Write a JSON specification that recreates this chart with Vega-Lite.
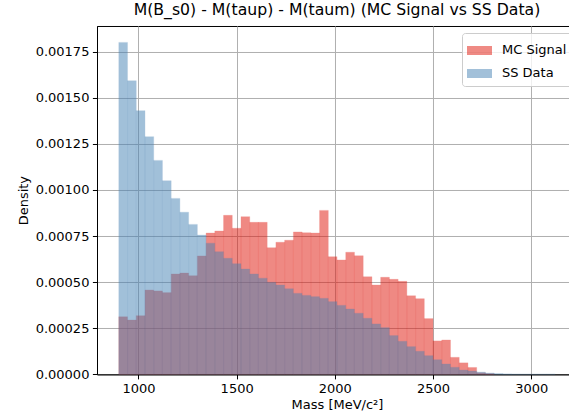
{
  "$schema": "https://vega.github.io/schema/vega-lite/v6.json",
  "autosize": "none",
  "width": 480,
  "height": 348.3,
  "padding": {"left": 97, "top": 26, "right": 0, "bottom": 41},
  "background": "white",
  "config": {
    "font": "DejaVu Sans",
    "view": {"stroke": "black", "strokeWidth": 1},
    "axis": {
      "zindex": 1,
      "domainColor": "black",
      "domainWidth": 1,
      "tickColor": "black",
      "tickWidth": 1,
      "tickSize": 4.6,
      "labelPadding": 3.5,
      "labelFontSize": 13,
      "labelColor": "black",
      "titleFontSize": 13,
      "titleFontWeight": "normal",
      "titleColor": "black",
      "gridColor": "#b0b0b0",
      "gridWidth": 1,
      "gridOpacity": 1
    }
  },
  "title": {
    "text": "M(B_s0) - M(taup) - M(taum) (MC Signal vs SS Data)",
    "fontSize": 15.7,
    "fontWeight": "normal",
    "color": "black",
    "anchor": "middle",
    "offset": 7
  },
  "data": {
    "values": [
      {"series": "MC Signal", "lo": 900, "hi": 944.44, "density": 0.000312},
      {"series": "MC Signal", "lo": 944.44, "hi": 988.89, "density": 0.000294},
      {"series": "MC Signal", "lo": 988.89, "hi": 1033.33, "density": 0.000318},
      {"series": "MC Signal", "lo": 1033.33, "hi": 1077.78, "density": 0.000457},
      {"series": "MC Signal", "lo": 1077.78, "hi": 1122.22, "density": 0.000452},
      {"series": "MC Signal", "lo": 1122.22, "hi": 1166.67, "density": 0.000443},
      {"series": "MC Signal", "lo": 1166.67, "hi": 1211.11, "density": 0.000544},
      {"series": "MC Signal", "lo": 1211.11, "hi": 1255.56, "density": 0.000549},
      {"series": "MC Signal", "lo": 1255.56, "hi": 1300, "density": 0.000535},
      {"series": "MC Signal", "lo": 1300, "hi": 1344.44, "density": 0.000642},
      {"series": "MC Signal", "lo": 1344.44, "hi": 1388.89, "density": 0.000766},
      {"series": "MC Signal", "lo": 1388.89, "hi": 1433.33, "density": 0.000777},
      {"series": "MC Signal", "lo": 1433.33, "hi": 1477.78, "density": 0.000862},
      {"series": "MC Signal", "lo": 1477.78, "hi": 1522.22, "density": 0.000792},
      {"series": "MC Signal", "lo": 1522.22, "hi": 1566.67, "density": 0.000855},
      {"series": "MC Signal", "lo": 1566.67, "hi": 1611.11, "density": 0.000824},
      {"series": "MC Signal", "lo": 1611.11, "hi": 1655.56, "density": 0.000824},
      {"series": "MC Signal", "lo": 1655.56, "hi": 1700, "density": 0.000687},
      {"series": "MC Signal", "lo": 1700, "hi": 1744.44, "density": 0.000716},
      {"series": "MC Signal", "lo": 1744.44, "hi": 1788.89, "density": 0.000727},
      {"series": "MC Signal", "lo": 1788.89, "hi": 1833.33, "density": 0.000772},
      {"series": "MC Signal", "lo": 1833.33, "hi": 1877.78, "density": 0.000768},
      {"series": "MC Signal", "lo": 1877.78, "hi": 1922.22, "density": 0.000766},
      {"series": "MC Signal", "lo": 1922.22, "hi": 1966.67, "density": 0.000889},
      {"series": "MC Signal", "lo": 1966.67, "hi": 2011.11, "density": 0.000638},
      {"series": "MC Signal", "lo": 2011.11, "hi": 2055.56, "density": 0.00062},
      {"series": "MC Signal", "lo": 2055.56, "hi": 2100, "density": 0.000662},
      {"series": "MC Signal", "lo": 2100, "hi": 2144.44, "density": 0.000643},
      {"series": "MC Signal", "lo": 2144.44, "hi": 2188.89, "density": 0.000529},
      {"series": "MC Signal", "lo": 2188.89, "hi": 2233.33, "density": 0.000484},
      {"series": "MC Signal", "lo": 2233.33, "hi": 2277.78, "density": 0.000526},
      {"series": "MC Signal", "lo": 2277.78, "hi": 2322.22, "density": 0.000515},
      {"series": "MC Signal", "lo": 2322.22, "hi": 2366.67, "density": 0.000504},
      {"series": "MC Signal", "lo": 2366.67, "hi": 2411.11, "density": 0.000426},
      {"series": "MC Signal", "lo": 2411.11, "hi": 2455.56, "density": 0.00041},
      {"series": "MC Signal", "lo": 2455.56, "hi": 2500, "density": 0.000302},
      {"series": "MC Signal", "lo": 2500, "hi": 2544.44, "density": 0.000181},
      {"series": "MC Signal", "lo": 2544.44, "hi": 2588.89, "density": 0.000186},
      {"series": "MC Signal", "lo": 2588.89, "hi": 2633.33, "density": 0.000092},
      {"series": "MC Signal", "lo": 2633.33, "hi": 2677.78, "density": 0.000062},
      {"series": "MC Signal", "lo": 2677.78, "hi": 2722.22, "density": 0.000037},
      {"series": "MC Signal", "lo": 2722.22, "hi": 2766.67, "density": 0.000008},
      {"series": "MC Signal", "lo": 2766.67, "hi": 2811.11, "density": 0.000003},
      {"series": "SS Data", "lo": 900, "hi": 944.44, "density": 0.0018},
      {"series": "SS Data", "lo": 944.44, "hi": 988.89, "density": 0.001592},
      {"series": "SS Data", "lo": 988.89, "hi": 1033.33, "density": 0.00143},
      {"series": "SS Data", "lo": 1033.33, "hi": 1077.78, "density": 0.001289},
      {"series": "SS Data", "lo": 1077.78, "hi": 1122.22, "density": 0.00116},
      {"series": "SS Data", "lo": 1122.22, "hi": 1166.67, "density": 0.00105},
      {"series": "SS Data", "lo": 1166.67, "hi": 1211.11, "density": 0.000954},
      {"series": "SS Data", "lo": 1211.11, "hi": 1255.56, "density": 0.000879},
      {"series": "SS Data", "lo": 1255.56, "hi": 1300, "density": 0.000813},
      {"series": "SS Data", "lo": 1300, "hi": 1344.44, "density": 0.000755},
      {"series": "SS Data", "lo": 1344.44, "hi": 1388.89, "density": 0.000711},
      {"series": "SS Data", "lo": 1388.89, "hi": 1433.33, "density": 0.000665},
      {"series": "SS Data", "lo": 1433.33, "hi": 1477.78, "density": 0.000629},
      {"series": "SS Data", "lo": 1477.78, "hi": 1522.22, "density": 0.0006},
      {"series": "SS Data", "lo": 1522.22, "hi": 1566.67, "density": 0.000571},
      {"series": "SS Data", "lo": 1566.67, "hi": 1611.11, "density": 0.000544},
      {"series": "SS Data", "lo": 1611.11, "hi": 1655.56, "density": 0.000521},
      {"series": "SS Data", "lo": 1655.56, "hi": 1700, "density": 0.000499},
      {"series": "SS Data", "lo": 1700, "hi": 1744.44, "density": 0.000484},
      {"series": "SS Data", "lo": 1744.44, "hi": 1788.89, "density": 0.000464},
      {"series": "SS Data", "lo": 1788.89, "hi": 1833.33, "density": 0.000439},
      {"series": "SS Data", "lo": 1833.33, "hi": 1877.78, "density": 0.000428},
      {"series": "SS Data", "lo": 1877.78, "hi": 1922.22, "density": 0.000421},
      {"series": "SS Data", "lo": 1922.22, "hi": 1966.67, "density": 0.000412},
      {"series": "SS Data", "lo": 1966.67, "hi": 2011.11, "density": 0.000394},
      {"series": "SS Data", "lo": 2011.11, "hi": 2055.56, "density": 0.000374},
      {"series": "SS Data", "lo": 2055.56, "hi": 2100, "density": 0.000354},
      {"series": "SS Data", "lo": 2100, "hi": 2144.44, "density": 0.000331},
      {"series": "SS Data", "lo": 2144.44, "hi": 2188.89, "density": 0.000304},
      {"series": "SS Data", "lo": 2188.89, "hi": 2233.33, "density": 0.000273},
      {"series": "SS Data", "lo": 2233.33, "hi": 2277.78, "density": 0.000253},
      {"series": "SS Data", "lo": 2277.78, "hi": 2322.22, "density": 0.00021},
      {"series": "SS Data", "lo": 2322.22, "hi": 2366.67, "density": 0.000179},
      {"series": "SS Data", "lo": 2366.67, "hi": 2411.11, "density": 0.00015},
      {"series": "SS Data", "lo": 2411.11, "hi": 2455.56, "density": 0.000125},
      {"series": "SS Data", "lo": 2455.56, "hi": 2500, "density": 0.000101},
      {"series": "SS Data", "lo": 2500, "hi": 2544.44, "density": 0.000079},
      {"series": "SS Data", "lo": 2544.44, "hi": 2588.89, "density": 0.000056},
      {"series": "SS Data", "lo": 2588.89, "hi": 2633.33, "density": 0.000038},
      {"series": "SS Data", "lo": 2633.33, "hi": 2677.78, "density": 0.000023},
      {"series": "SS Data", "lo": 2677.78, "hi": 2722.22, "density": 0.000018},
      {"series": "SS Data", "lo": 2722.22, "hi": 2766.67, "density": 0.000012},
      {"series": "SS Data", "lo": 2766.67, "hi": 2811.11, "density": 0.000007},
      {"series": "SS Data", "lo": 2811.11, "hi": 2855.56, "density": 0.000004},
      {"series": "SS Data", "lo": 2855.56, "hi": 2900, "density": 0.000002},
      {"series": "SS Data", "lo": 2900, "hi": 2944.44, "density": 0.000001},
      {"series": "SS Data", "lo": 2944.44, "hi": 2988.89, "density": 0.0000005},
      {"series": "SS Data", "lo": 2988.89, "hi": 3033.33, "density": 0.0000005},
      {"series": "SS Data", "lo": 3033.33, "hi": 3077.78, "density": 0.0000005},
      {"series": "SS Data", "lo": 3077.78, "hi": 3122.22, "density": 0.0000005}
    ]
  },
  "encoding": {
    "x": {
      "field": "lo",
      "type": "quantitative",
      "scale": {"domain": [789, 3233], "nice": false, "zero": false},
      "axis": {
        "values": [1000, 1500, 2000, 2500, 3000],
        "format": "d",
        "title": "Mass [MeV/c²]",
        "titlePadding": 3
      }
    },
    "x2": {"field": "hi"},
    "y": {
      "field": "density",
      "type": "quantitative",
      "stack": null,
      "scale": {"domain": [0, 0.001889], "nice": false},
      "axis": {
        "values": [0, 0.00025, 0.0005, 0.00075, 0.001, 0.00125, 0.0015, 0.00175],
        "format": ".5f",
        "title": "Density",
        "titlePadding": 5
      }
    },
    "y2": {"datum": 0},
    "color": {
      "field": "series",
      "type": "nominal",
      "scale": {"domain": ["MC Signal", "SS Data"], "range": ["#e0150a", "#4682b4"]},
      "legend": {
        "title": null,
        "orient": "none",
        "legendX": 365,
        "legendY": 7,
        "padding": 5,
        "fillColor": "rgba(255,255,255,0.8)",
        "strokeColor": "#cccccc",
        "cornerRadius": 3,
        "symbolType": "M-1,-0.36L1,-0.36L1,0.36L-1,0.36Z",
        "symbolSize": 625,
        "symbolStrokeWidth": 0,
        "symbolOpacity": 0.5,
        "labelFontSize": 13,
        "labelColor": "black",
        "labelOffset": 10,
        "rowPadding": 3
      }
    },
    "stroke": {
      "field": "series",
      "type": "nominal",
      "scale": {"domain": ["MC Signal", "SS Data"], "range": ["#e0150a", "#4682b4"]},
      "legend": null
    }
  },
  "layer": [
    {
      "transform": [{"filter": "datum.series === 'MC Signal'"}],
      "mark": {"type": "bar", "opacity": 0.5, "strokeWidth": 0.3}
    },
    {
      "transform": [{"filter": "datum.series === 'SS Data'"}],
      "mark": {"type": "bar", "opacity": 0.5, "strokeWidth": 0.3}
    }
  ]
}
